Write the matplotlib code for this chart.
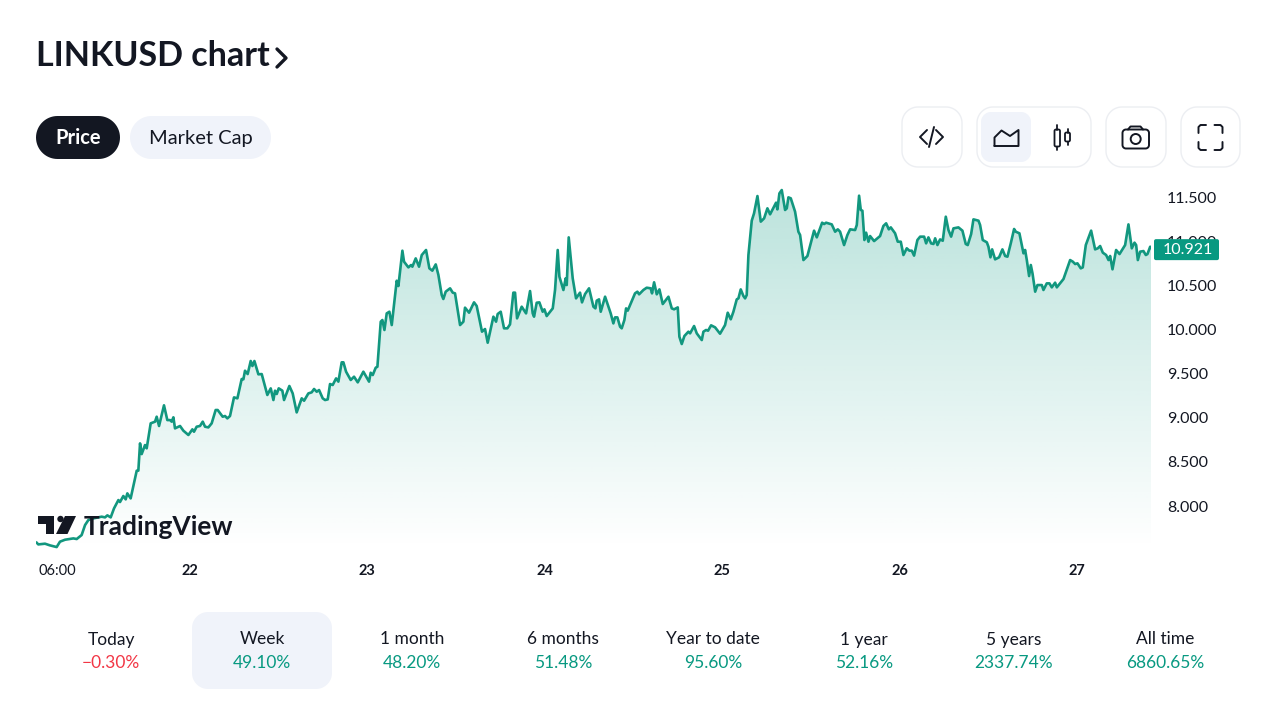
"""
LINKUSD week chart, TradingView widget look
"""
import numpy as np
import matplotlib
matplotlib.use("Agg")
import matplotlib.pyplot as plt
from matplotlib.patches import Polygon, Circle

plt.rcParams['font.family'] = ['Lato', 'DejaVu Sans']

# hours since the 21st 00:00
hours = [3.26, 3.48, 4.38, 5.06, 5.96, 6.41, 7.09, 8.22, 8.67, 9.34, 9.8, 10.25, 10.92, 12.05, 12.5, 12.82, 13.27,
         13.72, 14.31, 14.53, 14.98, 15.3, 15.52, 15.97, 16.79, 17.01, 17.24, 17.46, 17.91, 18.14, 18.68, 19.27,
         19.49, 19.81, 20.48, 20.93, 21.3, 21.52, 21.75, 21.97, 22.65, 23.1, 23.78, 24.32, 24.54, 24.9, 25.35,
         25.72, 26.03, 26.48, 26.93, 27.47, 27.74, 28.42, 28.74, 29.05, 29.41, 29.95, 30.41, 30.99, 31.22, 31.44,
         31.8, 32.21, 32.44, 32.71, 33.25, 33.7, 34.46, 34.92, 35.28, 35.5, 35.73, 36.0, 36.49, 36.72, 37.44,
         37.89, 38.43, 39.11, 39.43, 40.01, 40.46, 40.78, 41.14, 41.46, 41.95, 42.27, 42.63, 42.94, 43.3, 43.76,
         44.07, 44.52, 44.75, 45.11, 45.74, 46.19, 46.69, 47.45, 48.22, 48.44, 48.72, 49.12, 49.35, 49.8, 50.02,
         50.3, 50.61, 50.97, 51.29, 51.96, 52.19, 52.73, 52.95, 53.54, 53.9, 54.08, 54.53, 54.98, 55.35, 55.93,
         56.38, 56.78, 57.24, 57.6, 58.05, 58.27, 58.59, 59.18, 59.54, 59.85, 60.53, 60.98, 61.2, 61.75, 62.42,
         62.78, 63.5, 63.91, 64.27, 65.04, 65.4, 65.62, 66.03, 66.48, 66.93, 67.29, 67.74, 67.97, 68.24, 68.87,
         69.46, 70.0, 70.36, 70.54, 70.9, 71.26, 71.71, 71.94, 72.25, 73.07, 73.38, 73.74, 73.97, 74.51, 74.82,
         74.96, 75.23, 75.77, 76.22, 76.76, 77.03, 77.44, 77.98, 78.57, 78.84, 79.02, 79.33, 79.56, 80.15, 80.91,
         81.27, 81.5, 81.81, 82.18, 82.4, 82.76, 82.99, 83.21, 84.2, 84.52, 84.75, 85.33, 85.78, 86.32, 86.5,
         86.78, 87.14, 87.5, 87.95, 88.72, 89.17, 89.48, 89.98, 90.2, 90.52, 90.88, 91.42, 91.65, 92.19, 92.55,
         93.23, 93.45, 93.81, 94.08, 94.49, 95.03, 95.7, 96.38, 96.74, 97.15, 97.51, 97.96, 98.19, 98.5, 98.86,
         99.09, 99.31, 99.54, 99.99, 100.3, 100.76, 101.21, 101.66, 102.11, 102.47, 103.28, 103.46, 103.73,
         104.05, 104.5, 104.73, 104.95, 105.27, 105.85, 106.3, 106.53, 106.98, 107.52, 108.42, 108.79, 109.51,
         109.78, 110.05, 110.81, 111.27, 111.63, 111.94, 112.48, 112.93, 113.3, 113.97, 114.2, 114.51, 114.74,
         114.96, 115.23, 115.46, 115.78, 116.0, 116.54, 117.35, 117.8, 118.17, 118.53, 118.8, 119.38, 119.74,
         120.15, 120.51, 120.96, 121.32, 121.64, 121.95, 122.4, 122.77, 123.31, 123.58, 123.89, 124.25, 124.57,
         124.8, 125.11, 125.47, 125.83, 126.24, 126.6, 126.96, 127.28, 127.95, 128.49, 128.94, 129.21, 129.67,
         129.98, 130.66, 130.88, 131.24, 131.79, 132.01, 132.28, 132.51, 132.91, 133.45, 133.9, 134.27, 134.58,
         135.03, 135.48, 135.71, 136.2, 136.75, 136.97, 137.2, 137.51, 137.74, 137.97, 138.33, 138.64, 139.23,
         139.45, 139.9, 140.26, 140.58, 141.03, 141.26, 142.16, 143.06, 143.42, 143.74, 144.05, 144.5, 144.77,
         145.18, 145.9, 146.44, 146.8, 147.12, 147.48, 147.93, 148.25, 148.47, 148.79, 149.28, 149.74, 150.5,
         150.95, 151.4, 151.77, 151.99, 152.22, 152.53, 152.98, 153.3, 153.52, 153.89, 154.07]
prices = [7.585, 7.566, 7.574, 7.555, 7.536, 7.597, 7.619, 7.634, 7.627, 7.672, 7.785, 7.842, 7.861, 7.88, 7.872,
          7.895, 7.872, 7.974, 8.068, 8.046, 8.114, 8.076, 8.144, 8.087, 8.401, 8.401, 8.71, 8.589, 8.691, 8.654,
          8.937, 8.956, 9.012, 8.907, 9.141, 8.974, 8.974, 8.956, 9.005, 8.88, 8.907, 8.854, 8.805, 8.869, 8.842,
          8.899, 8.907, 8.956, 8.899, 8.891, 8.937, 9.088, 9.088, 9.012, 9.02, 8.993, 9.02, 9.231, 9.22, 9.439,
          9.435, 9.533, 9.495, 9.643, 9.586, 9.643, 9.492, 9.495, 9.258, 9.333, 9.201, 9.307, 9.269, 9.333, 9.307,
          9.201, 9.36, 9.276, 9.061, 9.22, 9.193, 9.276, 9.288, 9.326, 9.295, 9.314, 9.22, 9.201, 9.208, 9.382,
          9.371, 9.446, 9.409, 9.628, 9.628, 9.522, 9.428, 9.465, 9.401, 9.522, 9.409, 9.51, 9.484, 9.567, 9.578,
          10.088, 10.107, 9.994, 10.182, 10.201, 10.05, 10.552, 10.492, 10.892, 10.768, 10.703, 10.73, 10.711,
          10.805, 10.711, 10.843, 10.9, 10.692, 10.666, 10.737, 10.617, 10.39, 10.345, 10.428, 10.466, 10.417,
          10.409, 10.05, 10.088, 10.247, 10.19, 10.307, 10.266, 9.975, 10.005, 9.85, 10.145, 10.088, 10.175,
          10.201, 10.013, 10.013, 10.058, 10.417, 10.417, 10.126, 10.258, 10.182, 10.435, 10.182, 10.145, 10.303,
          10.307, 10.201, 10.228, 10.152, 10.239, 10.447, 10.9, 10.598, 10.447, 10.579, 10.503, 11.043, 10.579,
          10.352, 10.417, 10.307, 10.401, 10.466, 10.258, 10.239, 10.326, 10.341, 10.201, 10.371, 10.182, 10.069,
          10.137, 10.137, 10.031, 10.013, 10.107, 10.239, 10.213, 10.409, 10.428, 10.398, 10.447, 10.473, 10.466,
          10.409, 10.534, 10.398, 10.454, 10.288, 10.371, 10.239, 10.228, 10.25, 9.918, 9.835, 9.926, 9.975,
          9.956, 10.039, 9.956, 9.88, 9.975, 9.994, 9.986, 10.047, 10.024, 9.952, 10.05, 10.19, 10.115, 10.201,
          10.341, 10.352, 10.454, 10.379, 10.352, 10.39, 10.843, 11.232, 11.315, 11.511, 11.221, 11.258, 11.372,
          11.304, 11.436, 11.36, 11.541, 11.579, 11.353, 11.372, 11.496, 11.485, 11.334, 11.107, 11.07, 10.786,
          10.832, 11.119, 11.043, 11.209, 11.194, 11.209, 11.19, 11.107, 11.134, 11.107, 10.956, 11.07, 11.134,
          11.126, 11.183, 11.515, 11.353, 11.345, 11.013, 11.096, 10.994, 11.058, 11.001, 11.058, 11.172, 11.202,
          11.134, 11.156, 11.089, 10.994, 10.994, 10.843, 10.919, 10.892, 10.892, 10.836, 11.013, 11.051, 11.051,
          10.975, 11.043, 10.975, 10.968, 11.032, 10.956, 11.02, 11.005, 11.277, 11.126, 11.051, 11.145, 11.156,
          11.119, 10.968, 10.956, 11.081, 11.247, 11.232, 11.183, 11.013, 10.987, 10.937, 10.817, 10.907, 10.794,
          10.817, 10.907, 10.832, 10.824, 10.975, 11.138, 11.107, 11.089, 10.862, 10.9, 10.786, 10.605, 10.73,
          10.635, 10.428, 10.503, 10.503, 10.447, 10.522, 10.522, 10.477, 10.53, 10.477, 10.571, 10.786, 10.768,
          10.741, 10.749, 10.692, 10.703, 10.956, 11.119, 10.907, 10.919, 10.945, 10.87, 10.843, 10.786, 10.832,
          10.681, 10.9, 10.854, 10.956, 11.19, 10.919, 10.983, 10.956, 10.786, 10.881, 10.888, 10.843, 10.854,
          10.937, 10.921]

last_price = 10.921
y_ticks = [8.0, 8.5, 9.0, 9.5, 10.0, 10.5, 11.0, 11.5]
x_ticks = [6, 24, 48, 72, 96, 120, 144]
x_labels = ['06:00', '22', '23', '24', '25', '26', '27']

periods = ['Today', 'Week', '1 month', '6 months', 'Year to date', '1 year', '5 years', 'All time']
changes = [-0.30, 49.10, 48.20, 51.48, 95.60, 52.16, 2337.74, 6860.65]
period_x = [111, 262, 412, 563, 713, 864, 1014, 1165]

GREEN = '#089981'
LINE = '#12977f'
RED = '#f23645'
DARK = '#131722'
PALE = '#f0f3fa'
EDGE = '#eceef2'

W, H = 1280, 720
fig = plt.figure(figsize=(W / 100, H / 100), dpi=100, facecolor='white')

# chart area, placed by pixels
left, right, top, bottom = 36, 1151, 185, 549
ax = fig.add_axes([left / W, 1 - bottom / H, (right - left) / W, (bottom - top) / H])
ax.patch.set_alpha(0)
for s in ax.spines.values():
    s.set_visible(False)

# area gradient clipped to the series
xs = [hours[0]] + hours + [hours[-1]]
ys = [7.514] + prices + [7.514]
grad = np.zeros((256, 2, 4))
grad[..., :3] = matplotlib.colors.to_rgb(GREEN)
grad[..., 3] = np.linspace(0.28, 0.0, 256)[:, None]
im = ax.imshow(grad, extent=[3.165, 154.0, 7.514, 11.636], origin='upper', aspect='auto', zorder=1)
clip = Polygon(np.column_stack([xs, ys]), closed=True, transform=ax.transData, fc='none', ec='none')
ax.add_patch(clip)
im.set_clip_path(clip)

ax.plot(hours, prices, color=LINE, lw=1.9, solid_joinstyle='round', zorder=3)
ax.set_xlim(3.165, 154.0)
ax.set_ylim(7.514, 11.636)

ax.yaxis.tick_right()
ax.set_yticks(y_ticks, [f'{v:.3f}' for v in y_ticks])
ax.tick_params(axis='y', length=0, pad=11.5, labelsize=11.5, labelcolor=DARK)
ax.set_xticks(x_ticks, x_labels)
ax.tick_params(axis='x', length=0, pad=11, labelsize=10.5, labelcolor=DARK)
for lbl in ax.get_xticklabels()[1:]:
    lbl.set_fontweight('bold')

# everything else in pixel coordinates
ui = fig.add_axes([0, 0, 1, 1])
ui.set_xlim(0, W)
ui.set_ylim(H, 0)
ui.axis('off')
ui.patch.set_alpha(0)


def box(x0, y0, x1, y1, r, fc='white', ec='none', lw=1.0):
    # rounded rect with true circular corners
    t = np.linspace(0, np.pi / 2, 16)
    cx = [x1 - r, x0 + r, x0 + r, x1 - r]
    cy = [y0 + r, y0 + r, y1 - r, y1 - r]
    pts = []
    for i in range(4):
        a = t + i * np.pi / 2
        pts.append(np.column_stack([cx[i] + r * np.cos(a), cy[i] - r * np.sin(a)]))
    ui.add_patch(Polygon(np.vstack(pts), closed=True, fc=fc, ec=ec, lw=lw))


def stroke(px, py, lw=1.5, color=DARK):
    ui.plot(px, py, color=color, lw=lw, solid_capstyle='round', solid_joinstyle='round')


# title
ui.text(36, 56.5, 'LINKUSD chart', fontsize=24.5, fontweight='bold', color=DARK, va='center', ha='left')
stroke([277, 286, 277], [49, 58, 67], lw=2.4)

# pills
box(36, 116, 120, 159, 21.5, fc=DARK)
ui.text(78, 138.5, 'Price', fontsize=14.5, color='white', ha='center', va='center', fontweight='bold')
box(130, 116, 271, 159, 21.5, fc=PALE)
ui.text(200.5, 138.5, 'Market Cap', fontsize=14.5, color=DARK, ha='center', va='center')

# buttons
box(902, 107, 962, 167, 16, ec=EDGE)
box(977, 107, 1091, 167, 16, ec=EDGE)
box(981, 112, 1031, 162, 10, fc=PALE)
box(1106, 107, 1166, 167, 16, ec=EDGE)
box(1181, 107, 1240, 167, 16, ec=EDGE)

# code icon
stroke([927, 920, 927], [130, 137, 144], lw=1.4)
stroke([936, 943, 936], [130, 137, 144], lw=1.4)
stroke([934, 929], [127, 147], lw=1.4)
# area icon
stroke([994.5, 1018.5, 1018.5, 1010, 1001.5, 994.5, 994.5], [146, 146, 130, 136, 130.5, 137.5, 146], lw=1.4)
# candles icon
box(1054.5, 129.5, 1060, 146.5, 1.5, fc='white', ec=DARK, lw=1.3)
stroke([1057.2, 1057.2], [125, 129.5], lw=1.3)
stroke([1057.2, 1057.2], [146.5, 150], lw=1.3)
box(1065, 132.5, 1070, 141.5, 1.5, fc='white', ec=DARK, lw=1.3)
stroke([1067.5, 1067.5], [129, 132.5], lw=1.3)
stroke([1067.5, 1067.5], [141.5, 145], lw=1.3)
# camera icon
box(1122.5, 129.5, 1149, 148.5, 3.5, fc='white', ec=DARK, lw=1.4)
stroke([1128, 1130.5, 1140.5, 1143], [129.5, 126.5, 126.5, 129.5], lw=1.4)
ui.add_patch(Circle((1135.7, 139), 5, fc='none', ec=DARK, lw=1.4))
# fullscreen icon
stroke([1198.5, 1198.5, 1200.5, 1206], [133, 127, 125, 125], lw=1.4)
stroke([1214.5, 1220.5, 1222.5, 1222.5], [125, 125, 127, 133], lw=1.4)
stroke([1198.5, 1198.5, 1200.5, 1206], [142, 148, 150, 150], lw=1.4)
stroke([1214.5, 1220.5, 1222.5, 1222.5], [150, 150, 148, 142], lw=1.4)

# price tag on the last value
tag_y = ui.transData.inverted().transform(ax.transData.transform((hours[-1], last_price)))[1] + 1.5
box(1154, tag_y - 10.5, 1219, tag_y + 10.5, 2, fc=GREEN)
ui.text(1188, tag_y + 0.5, f'{last_price:.3f}', fontsize=11.5, color='white', ha='center', va='center')

# logo
ui.add_patch(Polygon([(38, 516), (54, 516), (54, 534), (46, 534), (46, 524), (38, 524)], fc=DARK))
ui.add_patch(Circle((60.5, 519), 3.2, fc=DARK))
ui.add_patch(Polygon([(65, 516), (76, 516), (67.5, 534), (56, 534)], fc=DARK))
ui.text(84, 527, 'TradingView', fontsize=19, fontweight='bold', color=DARK, ha='left', va='center')

# performance tabs
box(192, 612, 332, 689, 16, fc=PALE)
for name, chg, cx in zip(periods, changes, period_x):
    ui.text(cx, 639.5, name, fontsize=12.5, color=DARK, ha='center', va='center')
    txt = f'{chg:.2f}%'.replace('-', '\u2212')
    ui.text(cx, 663, txt, fontsize=12.5, color=RED if chg < 0 else GREEN, ha='center', va='center')

fig.savefig('out.png', dpi=100)
